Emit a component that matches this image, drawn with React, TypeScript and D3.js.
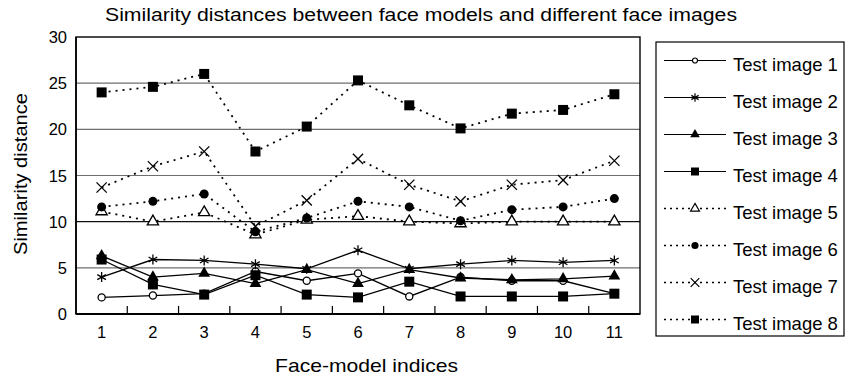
import * as d3 from "d3";
import React from "react";

const categories = ["1", "2", "3", "4", "5", "6", "7", "8", "9", "10", "11"];
const seriesNames = [
  "Test image 1",
  "Test image 2",
  "Test image 3",
  "Test image 4",
  "Test image 5",
  "Test image 6",
  "Test image 7",
  "Test image 8",
];
const test1 = [1.8, 2.0, 2.2, 4.6, 3.6, 4.4, 1.9, 4.0, 3.6, 3.6, 2.2];
const test2 = [4.0, 5.9, 5.8, 5.4, 4.9, 6.9, 4.9, 5.4, 5.8, 5.6, 5.8];
const test3 = [6.3, 4.0, 4.4, 3.3, 4.8, 3.3, 4.8, 3.9, 3.7, 3.8, 4.1];
const test4 = [5.9, 3.2, 2.1, 4.2, 2.1, 1.8, 3.5, 1.9, 1.9, 1.9, 2.2];
const test5 = [11.1, 10.0, 11.0, 8.6, 10.2, 10.6, 10.0, 9.8, 10.0, 10.0, 10.0];
const test6 = [11.6, 12.2, 13.0, 8.9, 10.4, 12.2, 11.6, 10.1, 11.3, 11.6, 12.5];
const test7 = [13.7, 16.0, 17.6, 9.5, 12.3, 16.8, 14.0, 12.2, 14.0, 14.5, 16.6];
const test8 = [24.0, 24.6, 26.0, 17.6, 20.3, 25.3, 22.6, 20.1, 21.7, 22.1, 23.8];
const yTicks = [0, 5, 10, 15, 20, 25, 30];

const allSeries = [test1, test2, test3, test4, test5, test6, test7, test8];

// marker style per series
const styles = [
  { sym: d3.symbolCircle, size: 40, legendSize: 20, fill: "#fff", stroke: true, dotted: false },
  { sym: d3.symbolAsterisk, size: 70, legendSize: 50, fill: "none", stroke: true, dotted: false },
  { sym: d3.symbolTriangle, size: 60, legendSize: 40, fill: "#000", stroke: false, dotted: false },
  { sym: d3.symbolSquare, size: 100, legendSize: 64, fill: "#000", stroke: false, dotted: false },
  { sym: d3.symbolTriangle, size: 55, legendSize: 34, fill: "#fff", stroke: true, dotted: true },
  { sym: d3.symbolCircle, size: 64, legendSize: 40, fill: "#000", stroke: false, dotted: true },
  { sym: d3.symbolTimes, size: 70, legendSize: 50, fill: "none", stroke: true, dotted: true },
  { sym: d3.symbolSquare, size: 100, legendSize: 64, fill: "#000", stroke: false, dotted: true },
];

const left = 76;
const right = 640;
const top = 37;
const bottom = 314;

export default function App() {
  const x = d3.scaleBand().domain(categories).range([left, right]).padding(0);
  const y = d3.scaleLinear().domain([0, 30]).range([bottom, top]);
  const cx = (c: string) => (x(c) as number) + x.bandwidth() / 2;

  const line = d3
    .line<number>()
    .x((_, i) => cx(categories[i]))
    .y((d) => y(d));

  const font = "Liberation Sans, Arial, sans-serif";

  return (
    <svg
      width={845}
      height={382}
      style={{ position: "absolute", left: 0, top: 0 }}
      fontFamily={font}
    >
      <rect width={845} height={382} fill="#fff" />
      <text x={105} y={21} fontSize={17.5} textLength={632} lengthAdjust="spacingAndGlyphs">
        Similarity distances between face models and different face images
      </text>

      {/* gridlines */}
      {yTicks.slice(1, -1).map((t) => (
        <line
          key={t}
          x1={left}
          x2={right}
          y1={y(t)}
          y2={y(t)}
          stroke={t === 10 ? "#111" : "#6e6e6e"}
          strokeWidth={1.2}
        />
      ))}
      {/* frame */}
      <rect x={left} y={top} width={right - left} height={bottom - top} fill="none" stroke="#000" strokeWidth={1.4} />
      <line x1={left} x2={right} y1={bottom} y2={bottom} stroke="#000" strokeWidth={2} />
      <line x1={left} x2={left} y1={top} y2={bottom} stroke="#000" strokeWidth={1.6} />

      {/* x ticks between categories */}
      {categories.slice(1).map((c) => (
        <line key={c} x1={x(c)} x2={x(c)} y1={bottom} y2={bottom - 8} stroke="#000" strokeWidth={1.2} />
      ))}
      {categories.map((c) => (
        <text key={c} x={cx(c)} y={338} textAnchor="middle" fontSize={16.5}>
          {c}
        </text>
      ))}
      {yTicks.map((t) => (
        <text key={t} x={67} y={y(t) + 6} textAnchor="end" fontSize={16.5}>
          {t}
        </text>
      ))}

      <text x={275} y={372} fontSize={18.5} textLength={183} lengthAdjust="spacingAndGlyphs">
        Face-model indices
      </text>
      <text
        transform={`translate(27,174) rotate(-90)`}
        textAnchor="middle"
        fontSize={17.5}
        textLength={162}
        lengthAdjust="spacingAndGlyphs"
      >
        Similarity distance
      </text>

      {/* series */}
      {allSeries.map((vals, si) => {
        const st = styles[si];
        const path = d3.symbol(st.sym, st.size)();
        return (
          <g key={si}>
            <path
              d={line(vals) as string}
              fill="none"
              stroke="#000"
              strokeWidth={st.dotted ? 1.8 : 1.3}
              strokeDasharray={st.dotted ? "2,5" : undefined}
            />
            {vals.map((v, i) => (
              <path
                key={i}
                d={path as string}
                transform={`translate(${cx(categories[i])},${y(v)})`}
                fill={st.fill}
                stroke={st.stroke ? "#000" : "none"}
                strokeWidth={1.3}
              />
            ))}
          </g>
        );
      })}

      {/* legend */}
      <rect x={656} y={42} width={188} height={294} fill="#fff" stroke="#000" strokeWidth={1.2} />
      {seriesNames.map((name, si) => {
        const st = styles[si];
        const ly = 60.5 + si * 37;
        return (
          <g key={name}>
            <line
              x1={664}
              x2={726}
              y1={ly}
              y2={ly}
              stroke="#000"
              strokeWidth={st.dotted ? 1.6 : 1.2}
              strokeDasharray={st.dotted ? "2,4" : undefined}
            />
            <path
              d={d3.symbol(st.sym, st.legendSize)() as string}
              transform={`translate(695,${ly})`}
              fill={st.fill}
              stroke={st.stroke ? "#000" : "none"}
              strokeWidth={1.2}
            />
            <text x={733} y={ly + 10.5} fontSize={18.5}>
              {name}
            </text>
          </g>
        );
      })}
    </svg>
  );
}
